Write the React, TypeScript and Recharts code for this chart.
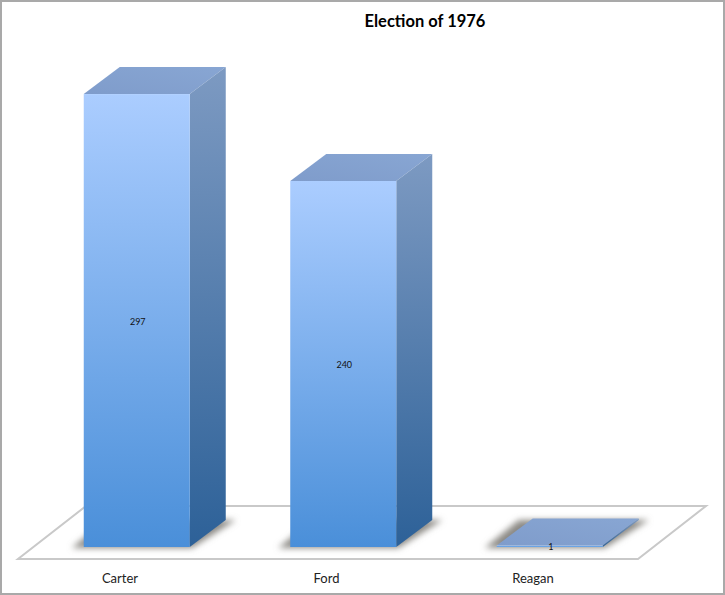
import { BarChart, Bar, XAxis, YAxis, LabelList } from "recharts";

const candidates = ["Carter", "Ford", "Reagan"];
const electoralVotes = [297, 240, 1];

const chartData = candidates.map((name, i) => ({ name, votes: electoralVotes[i] }));

const FONT = "Lato, 'Open Sans', sans-serif";
const DEPTH_X = 36;
const DEPTH_Y = 27;

const Bar3D = (props: any) => {
  const { x, y, width, height } = props;
  const r = x + width;
  const b = y + height;
  return (
    <g>
      <polygon
        points={`${x - 12},${b + 1} ${r + 2},${b + 1} ${r + DEPTH_X + 10},${b - DEPTH_Y} ${r + DEPTH_X - 4},${b - DEPTH_Y} ${x + DEPTH_X - 14},${b - DEPTH_Y}`}
        fill="#8c8a85"
        filter="url(#baseShadow)"
      />
      <polygon
        points={`${x},${y} ${x + DEPTH_X},${y - DEPTH_Y} ${r + DEPTH_X},${y - DEPTH_Y} ${r},${y}`}
        fill="url(#topFill)"
      />
      <polygon
        points={`${r},${y} ${r + DEPTH_X},${y - DEPTH_Y} ${r + DEPTH_X},${b - DEPTH_Y} ${r},${b}`}
        fill="url(#sideFill)"
      />
      <rect x={x} y={y} width={width} height={height} fill="url(#frontFill)" />
    </g>
  );
};

const CategoryTick = ({ x, payload }: any) => (
  <text x={x - 17} y={583} textAnchor="middle" fontSize={13} fontFamily={FONT} fill="#222">
    {payload.value}
  </text>
);

export default function App() {
  return (
    <div style={{ position: "absolute", left: 0, top: 0, width: 725, height: 595, background: "#fff" }}>
      <BarChart
        width={725}
        height={595}
        data={chartData}
        margin={{ top: 89.5, right: 71.75, bottom: 18, left: 33.75 }}
        barSize={106}
      >
        <defs>
          <linearGradient id="frontFill" x1="0" y1="0" x2="0" y2="1">
            <stop offset="0%" stopColor="#abcdff" />
            <stop offset="100%" stopColor="#4a8fd9" />
          </linearGradient>
          <linearGradient id="sideFill" x1="0" y1="0" x2="0" y2="1">
            <stop offset="0%" stopColor="#7d9ac2" />
            <stop offset="100%" stopColor="#2d6198" />
          </linearGradient>
          <linearGradient id="topFill" x1="0" y1="1" x2="1" y2="0">
            <stop offset="0%" stopColor="#7f9ccb" />
            <stop offset="100%" stopColor="#88a6d3" />
          </linearGradient>
          <filter id="baseShadow" x="-20%" y="-50%" width="140%" height="200%">
            <feGaussianBlur stdDeviation="3" />
          </filter>
        </defs>
        <rect x={1} y={1} width={723} height={593} fill="#fff" stroke="#a9a9a9" strokeWidth={2} />
        <polygon points="18,559 638,559 706,506 86,506" fill="#fff" stroke="#c9c9c9" strokeWidth={2} />
        <text x={425} y={27} textAnchor="middle" fontSize={16.5} fontWeight={700} fontFamily={FONT} fill="#000">
          Election of 1976
        </text>
        <XAxis
          dataKey="name"
          height={30}
          axisLine={false}
          tickLine={false}
          interval={0}
          tick={<CategoryTick />}
        />
        <YAxis hide domain={[0, 300]} />
        <Bar dataKey="votes" shape={<Bar3D />} isAnimationActive={false}>
          <LabelList dataKey="votes" position="center" dx={1} dy={1} fontSize={9} fontFamily={FONT} fill="#111" />
        </Bar>
      </BarChart>
    </div>
  );
}
